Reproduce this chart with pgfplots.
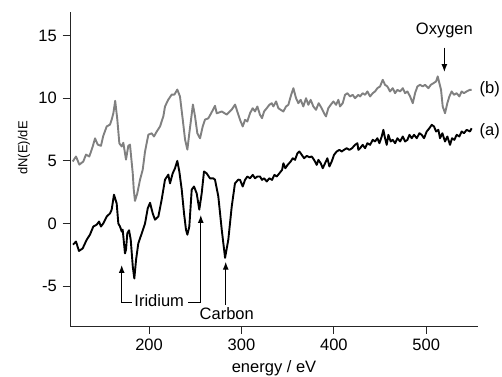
\documentclass[border=0pt]{standalone}
\usepackage{fontspec}
\setmainfont{Liberation Sans}
\usepackage{pgfplots}
\pgfplotsset{compat=1.18}
\usetikzlibrary{arrows.meta}
\definecolor{curveb}{RGB}{128,128,128}
\begin{document}
\fontsize{16.5bp}{19bp}\selectfont
\begin{tikzpicture}[x=1bp,y=1bp]
\useasboundingbox (-70,-50) rectangle (432,326);
\begin{axis}[
  at={(0,0)}, anchor=south west,
  scale only axis, width=408bp, height=314bp,
  xmin=114.5, xmax=556, ymin=-8.2, ymax=16.9,
  axis lines*=left,
  axis line style={line width=0.8bp, black!85},
  tick align=outside, major tick length=7.5bp,
  tick style={line width=0.8bp, black!85},
  xtick={200,300,400,500}, ytick={-5,0,5,10,15},
  /pgf/number format/assume math mode=true,
  clip=false,
  xlabel={energy / eV},
  ylabel={\fontsize{13bp}{15bp}\selectfont dN(E)/dE},
  every axis x label/.style={at={(axis description cs:0.5,-0.1338)},anchor=center},
  every axis y label/.style={at={(axis description cs:-0.1127,0.567)},rotate=90,anchor=center},
]
\addplot[curveb, line width=1.9bp, line join=round] coordinates {
(117.4,4.95) (121,5.35) (124.6,4.7) (128.9,4.95) (131.8,5.5) (135.4,5.35)
(139.1,6.15) (141.6,6.8) (144.5,6.3) (148,6.2) (150.5,7.0) (154.2,7.75)
(157.8,7.9) (159.6,8.3) (161.4,8.8) (163.4,9.8) (165.7,8.3) (167.9,6.4)
(170.5,6.15) (172.2,6.45) (175.1,5.1) (177.6,6.2) (179.4,6.3) (182.4,4.0)
(183.5,2.7) (184.8,1.8) (187.3,2.4) (190.3,3.5) (193.2,4.3) (195.7,5.75)
(199.3,7.1) (202.9,7.2) (205.4,6.95) (208,7.3) (211.9,7.75) (215.5,8.55)
(217.3,9.35) (220.9,9.9) (224.6,10.3) (227.5,10.3) (230.6,10.7) (233.5,10.15)
(236.5,8.3) (239,6.7) (241.5,5.9) (243.6,7.2) (247.5,9.5) (249.8,8.55)
(252.3,7.2) (255.2,6.8) (258.1,7.75) (260.6,8.3) (264.2,8.4) (267.9,8.9)
(271.4,9.4) (273.3,8.8) (278.7,8.95) (284.1,8.7) (289.5,9.1) (293.1,9.5)
(298.5,8.28) (301.4,7.75) (303.9,8.28) (306.4,8.15) (309.3,8.81) (312.2,9.21)
(314.7,8.95) (317.2,9.35) (320.1,8.68) (322.3,8.41) (324.5,8.95) (327.4,9.21)
(330.2,9.48) (332.8,9.61) (334.6,9.35) (337.5,9.75) (340,9.21) (342.5,9.08)
(345.4,8.95) (348.3,9.35) (350.8,9.48) (353.3,10.15) (356.2,10.81) (359.1,10.01)
(361.6,9.61) (364.1,9.88) (367,9.35) (369.9,10.01) (372.4,9.48) (374.9,9.88)
(377.8,9.35) (380.7,9.08) (383.6,9.61) (386.8,9.21) (389.4,8.81) (391.5,8.55)
(394,9.21) (396.6,9.48) (399.5,9.75) (402.4,9.48) (404.9,9.88) (406.7,9.35)
(409.6,9.61) (412.1,10.28) (414.7,10.41) (417.5,10.15) (420.4,10.28) (422.9,10.01)
(426.5,10.28) (428.4,10.15) (431.2,10.41) (433.8,10.28) (436.3,10.55) (439.2,10.15)
(442.1,10.41) (444.6,10.55) (447.1,10.81) (450,10.95) (452.9,11.48) (455.4,11.08)
(457.9,10.95) (460.8,10.55) (463.7,10.81) (466.3,10.41) (468.8,10.68) (471.7,10.55)
(474.6,10.81) (477.1,10.41) (479.6,10.55) (482.5,10.15) (485.4,9.61) (487.9,10.41)
(490.4,10.95) (493.3,11.08) (496.2,10.95) (498.7,11.08) (502.3,10.81) (504.9,11.08)
(507.8,11.21) (510.6,11.35) (512.4,11.75) (514.2,11.21) (516,10.68) (517.8,9.35)
(520.3,8.81) (522.8,9.61) (525,10.15) (527.5,10.55) (530,10.28) (532.9,10.41)
(535.8,10.15) (538.3,10.55) (540.8,10.41) (543.7,10.55) (547.3,10.68) (549.1,10.68)
};
\addplot[black, line width=1.9bp, line join=round] coordinates {
(117.7,-1.7) (121,-1.45) (124.2,-2.2) (128.2,-2.0) (132.6,-1.3) (136.1,-0.9)
(139.7,-0.25) (143.4,-0.1) (145.9,0.15) (148,-0.25) (150.5,0.0) (154.2,0.55)
(157.8,0.8) (159.6,1.1) (162.1,2.3) (165,1.6) (166.8,0.0) (168.6,-0.25)
(170.5,-0.65) (171.5,-0.5) (174,-2.4) (175.1,-2.1) (176.5,-0.8) (178.4,-0.55)
(180.2,-1.3) (182.5,-3.5) (184.1,-4.4) (186,-2.9) (188.4,-1.6) (192.1,-0.8)
(195.7,0.0) (198.6,1.2) (201.1,1.65) (204,0.8) (206.5,0.3) (210.1,0.55)
(213.7,1.9) (217.3,3.5) (220.9,3.9) (222.7,3.2) (225.6,4.0) (228.1,4.4)
(230.6,5.0) (232.8,4.15) (235.4,2.7) (237.9,0.8) (240,-0.5) (241.5,-0.9)
(243.6,-0.25) (246.2,2.7) (248.7,2.95) (251.6,2.4) (254.4,1.1) (257,2.4)
(259.5,4.15) (262.4,4.0) (266,3.6) (269.6,3.6) (271.4,3.5) (275,2.15)
(278.7,-0.5) (282.3,-2.75) (285.8,-1.3) (289.5,1.35) (293,3.2) (296.6,3.5)
(298.5,3.48) (301.4,2.95) (303.9,3.48) (306.4,3.75) (309.3,3.61) (312.2,3.88)
(314.7,3.61) (317.2,3.75) (320.1,3.75) (322.3,3.48) (324.5,3.61) (327.4,3.35)
(330.2,3.61) (333.1,3.48) (335.7,3.88) (338.2,3.75) (341.1,4.01) (344,4.28)
(345.4,4.81) (347.5,4.41) (350,4.68) (353.3,4.95) (355.5,5.21) (358,5.08)
(360.6,5.61) (362.7,5.75) (365.3,5.48) (367.8,5.21) (370.7,5.4) (373.6,5.29)
(376.1,5.35) (378.6,5.08) (381.5,4.68) (383.3,5.08) (385.8,4.81) (388,4.41)
(390.5,4.81) (393,5.21) (395.2,4.55) (397.7,4.95) (400.2,5.48) (403.1,5.75)
(406,5.88) (408.5,5.75) (411,5.88) (413.9,6.01) (416.8,5.88) (419.7,6.01)
(422.9,6.28) (425.5,6.41) (426.5,5.88) (428.4,6.01) (431.2,6.28) (433.8,6.01)
(436.3,6.41) (439.2,6.28) (442.1,6.68) (444.6,6.55) (447.1,6.81) (449.3,6.41)
(451.8,6.95) (453.6,7.48) (455.4,6.81) (457.2,6.28) (459,7.08) (461.5,6.55)
(463.7,6.68) (466.3,6.41) (468.8,6.81) (471.7,6.55) (474.6,6.95) (477.1,6.55)
(479.6,6.68) (481.8,7.08) (484.3,6.81) (486.8,7.08) (489.7,6.81) (492.6,7.21)
(495.1,7.08) (497.6,6.81) (500.5,7.35) (503.4,7.61) (505.9,7.88) (508.4,7.75)
(510.6,7.35) (513.1,7.48) (514.9,6.81) (517.4,7.21) (520.3,6.55) (522.8,6.95)
(525.7,6.28) (527.9,6.81) (530.4,6.68) (532.9,7.08) (535.8,6.95) (538.3,7.35)
(540.8,7.21) (543.7,7.48) (547.3,7.35) (549.1,7.61)
};
\node[anchor=base] at (axis cs:519.6,15.14) {Oxygen};
\draw[line width=1.2bp,-{Latex[length=8bp,width=6bp]}] (axis cs:519.6,14.05) -- (axis cs:519.6,12.1);
\node[anchor=west, inner sep=0pt] at (axis cs:557.5,10.7) {(b)};
\node[anchor=west, inner sep=0pt] at (axis cs:557.5,7.35) {(a)};
\node[anchor=base] at (axis cs:211,-6.66) {Iridium};
\draw[line width=1.2bp,-{Latex[length=8bp,width=6bp]}] (axis cs:181.3,-6.34) -- (axis cs:170.45,-6.34) -- (axis cs:170.45,-3.32);
\draw[line width=1.2bp,-{Latex[length=8bp,width=6bp]}] (axis cs:242.5,-6.34) -- (axis cs:256,-6.34) -- (axis cs:256,0.68);
\node[anchor=base] at (axis cs:284.1,-7.66) {Carbon};
\draw[line width=1.2bp,-{Latex[length=8bp,width=6bp]}] (axis cs:283,-6.52) -- (axis cs:283,-3.06);
\end{axis}
\end{tikzpicture}
\end{document}
